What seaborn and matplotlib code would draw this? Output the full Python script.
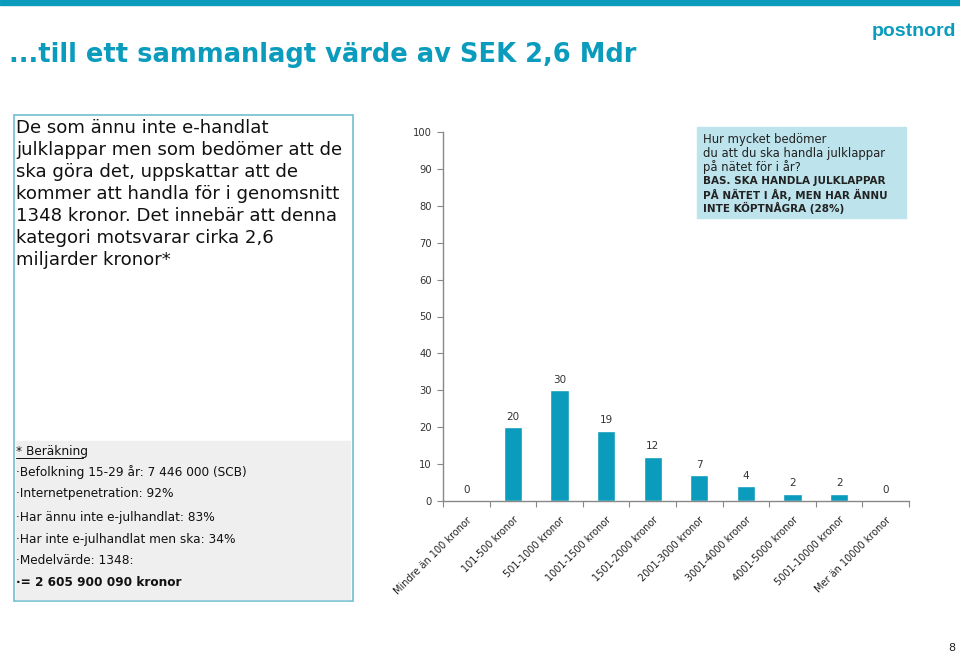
import matplotlib
matplotlib.use("Agg")
import matplotlib.pyplot as plt
from matplotlib.patches import Rectangle
import seaborn as sns
import pandas as pd

categories = ["Mindre än 100 kronor", "101-500 kronor", "501-1000 kronor",
              "1001-1500 kronor", "1501-2000 kronor", "2001-3000 kronor",
              "3001-4000 kronor", "4001-5000 kronor", "5001-10000 kronor",
              "Mer än 10000 kronor"]
values = [0, 20, 30, 19, 12, 7, 4, 2, 2, 0]
yticks = [0, 10, 20, 30, 40, 50, 60, 70, 80, 90, 100]

title = "...till ett sammanlagt värde av SEK 2,6 Mdr"
left_lines = ["De som ännu inte e-handlat", "julklappar men som bedömer att de",
              "ska göra det, uppskattar att de", "kommer att handla för i genomsnitt",
              "1348 kronor. Det innebär att denna", "kategori motsvarar cirka 2,6",
              "miljarder kronor*"]
calc_lines = ["Befolkning 15-29 år: 7 446 000 (SCB)", "Internetpenetration: 92%",
              "Har ännu inte e-julhandlat: 83%", "Har inte e-julhandlat men ska: 34%",
              "Medelvärde: 1348:"]
calc_result = "= 2 605 900 090 kronor"
question_lines = ["Hur mycket bedömer", "du att du ska handla julklappar",
                  "på nätet för i år?"]
base_lines = ["BAS. SKA HANDLA JULKLAPPAR", "PÅ NÄTET I ÅR, MEN HAR ÄNNU",
              "INTE KÖPTNÅGRA (28%)"]

TEAL = "#0a9bbd"
W, H = 960, 654
sns.set_theme(style="white")
plt.rcParams['font.family'] = ['DejaVu Sans']

fig = plt.figure(figsize=(9.6, 6.54), dpi=100)

def fx(x): return x / W
def fy(y): return 1 - y / H

# top band
fig.patches.append(Rectangle((0, fy(5)), 1, 5 / H, transform=fig.transFigure,
                             color=TEAL, zorder=0))
fig.text(fx(9), fy(55), title, color=TEAL, fontsize=18.5, fontweight="bold",
         va="center", ha="left")
fig.text(fx(956), fy(31), "postnord", color=TEAL, fontsize=14, fontweight="bold",
         va="center", ha="right", family=["Liberation Sans"])
fig.text(fx(955), fy(648), "8", color="#222222", fontsize=8, va="center", ha="right")

# left outline box
fig.patches.append(Rectangle((fx(14), fy(601)), (353 - 14) / W, (601 - 115) / H,
                             transform=fig.transFigure, fill=False,
                             edgecolor="#6fbfd0", linewidth=1.2))
for i, t in enumerate(left_lines):
    fig.text(fx(16), fy(128 + 22 * i), t, fontsize=13.1, va="center", ha="left",
             color="#111111")
# calc gray box
fig.patches.append(Rectangle((fx(16), fy(599)), (350 - 16) / W, (599 - 441) / H,
                             transform=fig.transFigure, color="#efefef"))
fig.text(fx(16), fy(451), "* Beräkning", fontsize=8.7, va="center", ha="left",
         color="#111111")
fig.lines.append(plt.Line2D([fx(16), fx(83)], [fy(458), fy(458)],
                            transform=fig.transFigure, color="#111111", lw=0.7))
ys = [472, 494, 517, 539, 561]
for y, t in zip(ys, calc_lines):
    fig.text(fx(16), fy(y), "·" + t, fontsize=8.7, va="center", ha="left",
             color="#111111")
fig.text(fx(16), fy(583), "·" + calc_result, fontsize=8.7, va="center", ha="left",
         color="#111111", fontweight="bold")

# question box
fig.patches.append(Rectangle((fx(697), fy(218)), (906 - 697) / W, (218 - 127) / H,
                             transform=fig.transFigure, color="#bde3ec"))
for i, t in enumerate(question_lines):
    fig.text(fx(703), fy(140 + 13.5 * i), t, fontsize=8.4, va="center", ha="left",
             color="#222222")
for i, t in enumerate(base_lines):
    fig.text(fx(703), fy(181 + 13.5 * i), t, fontsize=7.5, va="center", ha="left",
             color="#222222", fontweight="bold")

# chart
ax = fig.add_axes([fx(443), fy(501), (909 - 443) / W, (501 - 132) / H])
df = pd.DataFrame({"cat": categories, "val": values})
sns.barplot(data=df, x="cat", y="val", color=TEAL, saturation=1, width=0.39, ax=ax)
ax.set_ylim(0, 100)
ax.set_xlim(-0.5, len(categories) - 0.5)
ax.set_yticks(yticks)
ax.set_xlabel("")
ax.set_ylabel("")
for s in ["top", "right"]:
    ax.spines[s].set_visible(False)
for s in ["left", "bottom"]:
    ax.spines[s].set_color("#888888")
    ax.spines[s].set_linewidth(1)
ax.tick_params(axis="y", left=True, length=4, width=0.8, color="#888888",
               labelsize=7.2, labelcolor="#333333", pad=4)
ax.set_xticks(range(len(categories)))
ax.set_xticklabels(categories, rotation=45, ha="right", rotation_mode="anchor",
                   fontsize=7.0, color="#222222")
ax.tick_params(axis="x", bottom=False, pad=4)
ax.set_xticks([i - 0.5 for i in range(len(categories) + 1)], minor=True)
ax.tick_params(axis="x", which="minor", bottom=True, length=4, width=0.8,
               color="#888888")
ax.bar_label(ax.containers[0], labels=[str(v) for v in values], padding=4,
             fontsize=7.5, color="#333333")
ax.grid(False)

fig.savefig("out.png", dpi=100)
